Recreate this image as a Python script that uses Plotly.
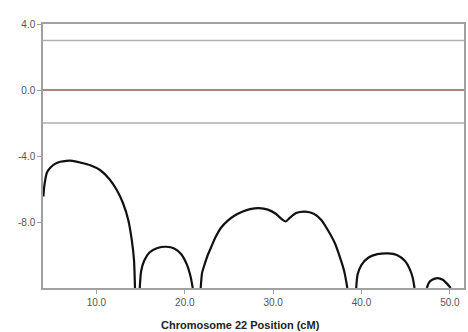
import plotly.graph_objects as go

# LOD-like curve segments (cM position, score)
seg1_x = [4.0, 4.1, 4.4, 4.8, 5.3, 5.9, 6.6, 7.3, 8.2, 9.3, 10.4, 11.5, 12.3, 13.0, 13.6, 14.0, 14.25, 14.36]
seg1_y = [-6.45, -5.8, -5.0, -4.7, -4.48, -4.35, -4.29, -4.29, -4.4, -4.56, -4.85, -5.42, -6.06, -6.85, -7.88, -9.1, -10.3, -12.0]
seg2_x = [14.9, 15.05, 15.4, 16.0, 16.9, 17.9, 18.8, 19.6, 20.25, 20.65, 20.9]
seg2_y = [-12.0, -11.0, -10.35, -9.85, -9.58, -9.5, -9.6, -9.95, -10.6, -11.3, -12.0]
seg3_x = [21.8, 21.95, 22.25, 22.6, 23.0, 23.5, 24.1, 24.8, 25.6, 26.5, 27.4, 28.4, 29.4, 30.3, 30.9, 31.4, 31.9, 32.6, 33.6, 34.6, 35.4, 36.2, 37.0, 37.6, 38.05, 38.4]
seg3_y = [-12.0, -11.1, -10.55, -10.0, -9.5, -8.9, -8.35, -7.95, -7.62, -7.38, -7.22, -7.16, -7.25, -7.5, -7.8, -7.97, -7.74, -7.46, -7.37, -7.5, -7.85, -8.5, -9.3, -10.2, -11.0, -12.0]
seg4_x = [39.4, 39.55, 40.0, 40.8, 41.8, 43.0, 44.0, 44.9, 45.5, 45.8, 46.0]
seg4_y = [-12.0, -11.2, -10.6, -10.15, -9.95, -9.9, -10.0, -10.35, -10.9, -11.4, -12.0]
seg5_x = [47.4, 47.6, 48.0, 48.6, 49.2, 49.7, 50.1]
seg5_y = [-12.0, -11.7, -11.5, -11.4, -11.5, -11.75, -12.0]

ref_gray = [3.0, -2.0]
ref_zero = 0.0

y_ticks = [4, 0, -4, -8]
y_labels = ["4.0", "0.0", "-4.0", "-8.0"]
x_ticks = [10, 20, 30, 40, 50]
x_labels = ["10.0", "20.0", "30.0", "40.0", "50.0"]

fig = go.Figure()
for sx, sy in [(seg1_x, seg1_y), (seg2_x, seg2_y), (seg3_x, seg3_y), (seg4_x, seg4_y), (seg5_x, seg5_y)]:
    fig.add_trace(go.Scatter(x=sx, y=sy, mode="lines",
                             line=dict(color="#111111", width=2.2, shape="spline", smoothing=0.6),
                             showlegend=False, hoverinfo="skip", cliponaxis=True))

for v in ref_gray:
    fig.add_hline(y=v, line=dict(color="#b0b0b0", width=1.5))
fig.add_hline(y=ref_zero, line=dict(color="#9a5a5a", width=1.5))

fig.add_annotation(text="<b>Chromosome 22 Position (cM)</b>", xref="paper", yref="paper",
                   x=0.468, y=-0.14, xanchor="center", yanchor="middle", showarrow=False,
                   font=dict(family="Liberation Sans, Arial, sans-serif", size=11, color="#222222"))

fig.update_layout(
    width=468, height=332,
    margin=dict(l=43, r=2, t=24, b=44),
    paper_bgcolor="white", plot_bgcolor="white",
    font=dict(family="Liberation Sans, Arial, sans-serif", size=10, color="#555555"),
    xaxis=dict(range=[3.95, 51.6], tickvals=x_ticks, ticktext=x_labels, showgrid=False, zeroline=False,
               showline=True, linecolor="#a0a0a0", linewidth=1.5, mirror=True,
               ticks="outside", ticklen=4, tickcolor="#a0a0a0"),
    yaxis=dict(range=[-12, 4], tickvals=y_ticks, ticktext=y_labels, showgrid=False, zeroline=False,
               showline=True, linecolor="#a0a0a0", linewidth=1.5, mirror=True,
               ticks="outside", ticklen=4, tickcolor="#a0a0a0"),
)

fig.write_html("out.html")
